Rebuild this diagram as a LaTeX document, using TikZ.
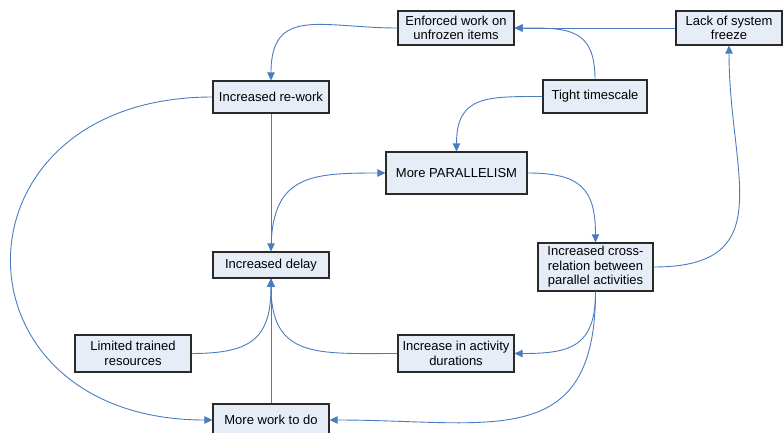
\documentclass[tikz,border=0pt]{standalone}
\usepackage{fontspec}
\setmainfont{Liberation Sans}
\usepackage{xcolor}
\usepackage{tikz}
\usetikzlibrary{positioning, arrows.meta}

\definecolor{boxfill}{HTML}{E7EDF7}
\definecolor{boxline}{HTML}{2A2A2A}
\definecolor{linkblue}{HTML}{4A7CC2}

\begin{document}
\begin{tikzpicture}[x=1pt, y=1pt,
    factor/.style={draw=boxline, line width=1.2pt, fill=boxfill, align=center,
      inner sep=2pt, font=\fontsize{13}{14.5}\selectfont},
    link/.style={draw=linkblue, line width=0.9pt, looseness=1.4},
    cause/.style={link, -{Triangle[length=8pt, width=7.5pt]}}]
      \useasboundingbox (0,0) rectangle (783,432);

      % Top row
      \node[factor, minimum width=116pt, minimum height=34pt] (enforced) at (456,404) {Enforced work on\\unfrozen items};
      \node[factor, minimum width=106pt, minimum height=34pt] (freeze) at (729,404) {Lack of system\\freeze};
      \node[factor, minimum width=104pt, minimum height=33pt] (tight) at (595,335.5) {Tight timescale};
      \node[factor, minimum width=116pt, minimum height=32pt] (rework) at (271,335) {Increased re-work};

      % Middle row
      \node[factor, minimum width=141pt, minimum height=42pt] (parallel) at (456.5,259) {More PARALLELISM};
      \node[factor, minimum width=115pt, minimum height=48pt] (cross) at (595.5,165) {Increased cross-\\relation between\\parallel activities};
      \node[factor, minimum width=116pt, minimum height=26pt] (delay) at (271,167) {Increased delay};

      % Bottom row
      \node[factor, minimum width=116pt, minimum height=37pt] (limited) at (133,78.5) {Limited trained\\resources};
      \node[factor, minimum width=116pt, minimum height=37pt] (durations) at (456,78.5) {Increase in activity\\durations};
      \node[factor, minimum width=116pt, minimum height=32pt] (morework) at (271,12) {More work to do};

      % Links
      \draw[cause] (freeze.west) -- (enforced.east);
      \draw[cause] (tight.north) to[out=90, in=0] (enforced.east);
      \draw[cause] (tight.west) to[out=180, in=90] (parallel.north);
      \draw[cause] (enforced.west) to[out=180, in=90] (rework.north);
      \draw[cause] (rework.south) -- (delay.north);
      \draw[cause] (delay.north) to[out=90, in=180] (parallel.west);
      \draw[cause] (parallel.east) to[out=0, in=90] (cross.north);
      \draw[cause] (cross.east) to[out=0, in=-90] (freeze.south);
      \draw[cause] (rework.west) .. controls +(-268,0) and +(-268,0) .. (morework.west);
      \draw[cause] (cross.south) to[out=-90, in=0] (durations.east);
      \draw[cause] (cross.south) to[out=-90, in=0] (morework.east);
      \draw[cause] (limited.east) to[out=0, in=-90] (delay.south);
      \draw[cause] (durations.west) to[out=180, in=-90] (delay.south);
      \draw[cause] (morework.north) -- (delay.south);
    \end{tikzpicture}
\end{document}
